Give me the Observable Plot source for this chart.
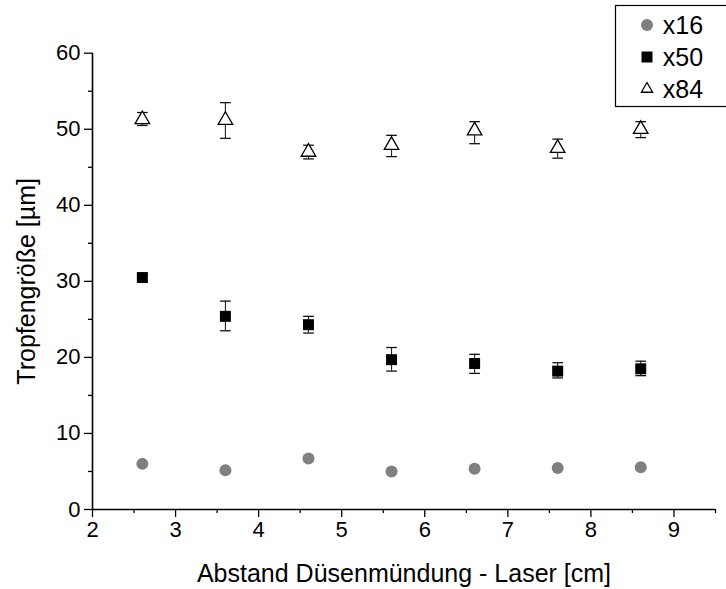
<!DOCTYPE html>
<html><head><meta charset="utf-8">
<script src="https://cdn.jsdelivr.net/npm/d3@7"></script>
<script src="https://cdn.jsdelivr.net/npm/@observablehq/plot@0.6"></script>
<style>body{margin:0;background:#fff} svg{display:block}</style>
</head><body><div id="chart"></div>
<script>
const distances = [2.6, 3.6, 4.6, 5.6, 6.6, 7.6, 8.6];
const x16 = [6.0, 5.15, 6.7, 5.0, 5.35, 5.45, 5.55];
const x50 = [30.5, 25.4, 24.3, 19.7, 19.2, 18.2, 18.5];
const x50Low = [30.0, 23.5, 23.2, 18.2, 17.9, 17.3, 17.6];
const x50High = [31.0, 27.4, 25.4, 21.3, 20.4, 19.3, 19.5];
const x84 = [51.3, 51.2, 47.0, 47.9, 49.8, 47.5, 50.0];
const x84Low = [50.5, 48.8, 46.1, 46.4, 48.1, 46.2, 48.9];
const x84High = [52.2, 53.5, 47.9, 49.2, 51.0, 48.7, 51.0];
const seriesNames = ["x16", "x50", "x84"];
const xTicks = [2, 3, 4, 5, 6, 7, 8, 9];
const xMinor = [2.5, 3.5, 4.5, 5.5, 6.5, 7.5, 8.5, 9.5];
const yTicks = [0, 10, 20, 30, 40, 50, 60];
const yMinor = [5, 15, 25, 35, 45, 55];
const xLabel = "Abstand Düsenmündung - Laser [cm]";
const yLabel = "Tropfengröße [µm]";

const d16 = distances.map((x, i) => ({x, y: x16[i]}));
const d50 = distances.map((x, i) => ({x, y: x50[i], lo: x50Low[i], hi: x50High[i]}));
const d84 = distances.map((x, i) => ({x, y: x84[i], lo: x84Low[i], hi: x84High[i]}));
const errs = [...d50, ...d84];

const cap = {draw(ctx, size) { const w = Math.sqrt(size); ctx.moveTo(-w / 2, 0); ctx.lineTo(w / 2, 0); }};
const FONT = "Liberation Sans, Arial, sans-serif";

const plot = Plot.plot({
  width: 726, height: 589,
  marginLeft: 92, marginRight: 11, marginTop: 52.7, marginBottom: 80,
  style: {fontFamily: FONT, fontSize: "22px", background: "white", color: "black"},
  x: {domain: [2, 9.5], label: null},
  y: {domain: [0, 60], label: null},
  marks: [
    Plot.axisX({ticks: xMinor, tickSize: 4, tickFormat: () => "", strokeWidth: 1.3}),
    Plot.axisX({ticks: xTicks, tickSize: 8, tickPadding: 4, strokeWidth: 1.3, fontSize: 22}),
    Plot.axisY({ticks: yMinor, tickSize: 4, tickFormat: () => "", strokeWidth: 1.3}),
    Plot.axisY({ticks: yTicks, tickSize: 8, tickPadding: 4, strokeWidth: 1.3, fontSize: 22}),
    Plot.ruleY([0], {stroke: "black", strokeWidth: 1.6}),
    Plot.ruleX([2], {stroke: "black", strokeWidth: 1.6}),
    Plot.ruleX(errs, {x: "x", y1: "lo", y2: "hi", stroke: "#222", strokeWidth: 1.1}),
    Plot.dot(errs, {x: "x", y: "hi", symbol: cap, r: 6, fill: "none", stroke: "#111", strokeWidth: 1.3}),
    Plot.dot(errs, {x: "x", y: "lo", symbol: cap, r: 6, fill: "none", stroke: "#111", strokeWidth: 1.3}),
    Plot.dot(d16, {x: "x", y: "y", r: 6, fill: "#808080", stroke: "none"}),
    Plot.dot(d50, {x: "x", y: "y", symbol: "square", r: 6.2, fill: "black", stroke: "none"}),
    Plot.dot(d84, {x: "x", y: "y", symbol: "triangle", r: 5.4, fill: "white", stroke: "black", strokeWidth: 1.3}),
    Plot.text([xLabel], {text: d => d, frameAnchor: "bottom", dy: 64, lineAnchor: "middle", textAnchor: "middle", fontSize: 25}),
    Plot.text([yLabel], {text: d => d, frameAnchor: "left", dx: -66, rotate: -90, lineAnchor: "middle", textAnchor: "middle", fontSize: 25})
  ]
});

// legend
const svg = d3.select(plot);
const lg = svg.append("g").attr("font-family", FONT).attr("font-size", 25);
lg.append("rect").attr("x", 615.5).attr("y", 5.5).attr("width", 140).attr("height", 101)
  .attr("fill", "white").attr("stroke", "black").attr("stroke-width", 1.2);
const rows = [25, 57, 89];
const symbols = [
  {type: d3.symbolCircle, size: Math.PI * 36, fill: "#808080", stroke: "none"},
  {type: d3.symbolSquare, size: 121, fill: "black", stroke: "none"},
  {type: d3.symbolTriangle2, size: Math.PI * 5.4 * 5.4, fill: "white", stroke: "black"}
];
seriesNames.forEach((name, i) => {
  const s = symbols[i];
  lg.append("path").attr("d", d3.symbol(s.type, s.size)())
    .attr("transform", `translate(647,${rows[i]})`)
    .attr("fill", s.fill).attr("stroke", s.stroke).attr("stroke-width", 1.3);
  lg.append("text").attr("x", 683).attr("y", rows[i]).attr("dy", "0.35em").text(name);
});

document.getElementById("chart").append(plot);
</script></body></html>
